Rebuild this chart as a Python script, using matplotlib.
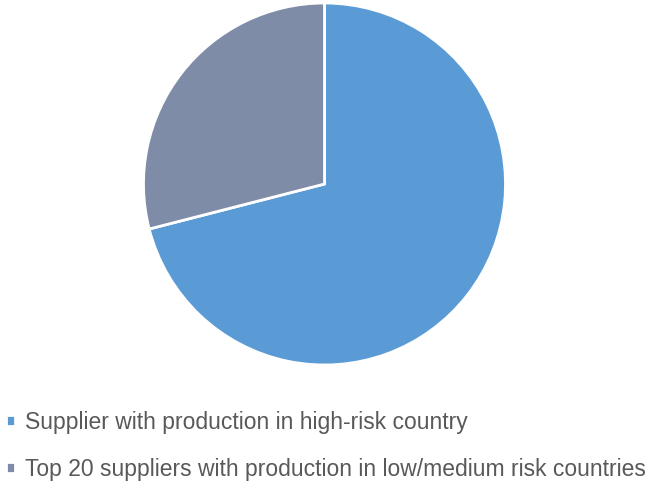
import matplotlib.pyplot as plt

etiquetas = ['Supplier with production in high-risk country',
             'Top 20 suppliers with production in low/medium risk countries']
valores = [71, 29]
colores = ['#5B9BD5', '#7F8CA8']

plt.rcParams['font.family'] = ['Liberation Sans', 'DejaVu Sans']

fig = plt.figure(figsize=(6.51, 4.84), dpi=100)
cx, cy, r = 324.5, 184, 181
ax = fig.add_axes([(cx - r) / 651, (484 - cy - r) / 484, 2 * r / 651, 2 * r / 484])
cunas, _ = ax.pie(valores, colors=colores, startangle=90, counterclock=False,
                  wedgeprops=dict(edgecolor='white', linewidth=2))
ax.set_xlim(-1, 1)
ax.set_ylim(-1, 1)
ax.set_aspect('equal')

leg = fig.legend(cunas, etiquetas, loc='upper left', bbox_to_anchor=(0.0, 1 - 405 / 484),
                 frameon=False, fontsize=16.5, handlelength=0.4, handleheight=0.4,
                 handletextpad=0.45, labelspacing=1.05, borderpad=0.25, borderaxespad=0)
for t in leg.get_texts():
    t.set_color('#595959')

fig.savefig('out.png', dpi=100)
